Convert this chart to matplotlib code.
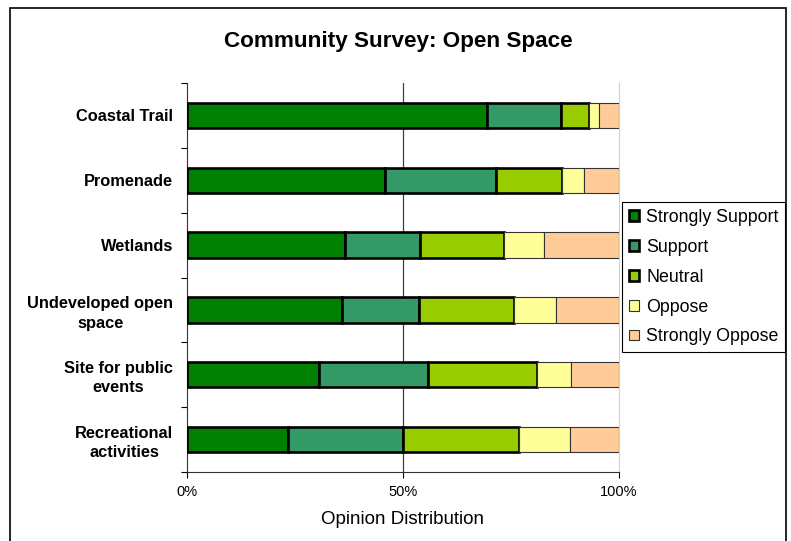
import numpy as np
import matplotlib
matplotlib.use("Agg")
import matplotlib.pyplot as plt
from matplotlib.patches import Rectangle

plt.rcParams['font.family'] = ['Liberation Sans', 'DejaVu Sans']

# survey data (percent of respondents), top row first
places = ["Coastal Trail", "Promenade", "Wetlands", "Undeveloped open\nspace",
          "Site for public\nevents", "Recreational\nactivities"]
strongly_support = [69.5, 45.8, 36.5, 35.9, 30.5, 23.4]
support          = [17.1, 25.8, 17.4, 17.8, 25.2, 26.7]
neutral          = [6.5, 15.3, 19.4, 21.9, 25.4, 26.8]
oppose           = [2.3, 5.0, 9.4, 9.8, 7.8, 11.7]
strongly_oppose  = [4.6, 8.1, 17.3, 14.6, 11.1, 11.4]
series_names = ["Strongly Support", "Support", "Neutral", "Oppose", "Strongly Oppose"]
x_ticks = [0, 50, 100]
x_ticklabels = ["0%", "50%", "100%"]

colors = ["#008000", "#339966", "#99CC00", "#FFFF99", "#FFCC99"]
W, H = 791, 541
fig = plt.figure(figsize=(W/100., H/100.), dpi=100)
ax = fig.add_axes([187./W, 1-472./H, 432./W, 389./H])

series = [strongly_support, support, neutral, oppose, strongly_oppose]
ypos = np.arange(len(places))
left = np.zeros(len(places))
handles = []
for i, vals in enumerate(series):
    if i < 3:
        lw, ec = 1.9, "black"
    else:
        lw, ec = 0.8, "#333333"
    b = ax.barh(ypos, vals, left=left, height=0.39, color=colors[i],
                edgecolor=ec, linewidth=lw, label=series_names[i], zorder=3)
    handles.append(b)
    left += np.array(vals)

ax.set_xlim(0, 100)
ax.set_ylim(len(places)-0.5, -0.5)
ax.set_xticks(x_ticks)
ax.set_xticklabels(x_ticklabels, fontsize=10.5)
ax.axvline(50, color="#404040", linewidth=0.9, zorder=1)

ax.set_yticks(ypos)
ax.set_yticklabels(places, fontsize=11.8, fontweight="bold", ha="right",
                   multialignment="center", linespacing=1.35)
ax.set_yticks(np.arange(len(places)+1)-0.5, minor=True)
ax.tick_params(axis="y", which="major", length=0, pad=10)
ax.tick_params(axis="y", which="minor", length=4, width=0.8, direction="out")
ax.tick_params(axis="x", length=4, width=0.8, direction="out", pad=5)

ax.spines["top"].set_visible(False)
ax.spines["right"].set_color("#d0d0d0")
ax.spines["left"].set_color("#333333")
ax.spines["bottom"].set_color("#333333")

fig.text(398./W, 1-41./H, "Community Survey: Open Space", fontsize=16.2,
         fontweight="bold", ha="center", va="center")
fig.text(402./W, 1-520./H, "Opinion Distribution", fontsize=13.5,
         ha="center", va="center")

leg = ax.legend(handles=handles, loc="upper left", bbox_to_anchor=(622./W, 1-202./H),
                bbox_transform=fig.transFigure, borderaxespad=0, fontsize=12.8,
                handlelength=0.55, handleheight=0.55, handletextpad=0.4,
                labelspacing=0.72, borderpad=0.4, fancybox=False, framealpha=1)
leg.get_frame().set_edgecolor("black")
leg.get_frame().set_linewidth(0.8)

# outer chart border
fig.patches.append(Rectangle((10./W, -0.05), 776./W, 1-8./H+0.05, transform=fig.transFigure,
                             fill=False, edgecolor="black", linewidth=1.2))

fig.savefig("out.png", dpi=100)
